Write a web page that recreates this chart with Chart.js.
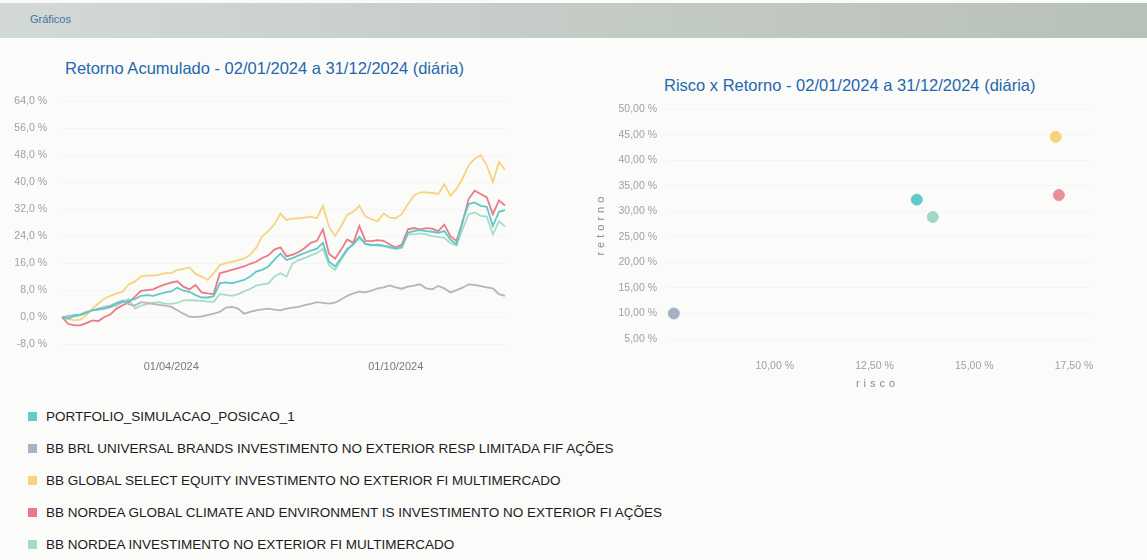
<!DOCTYPE html>
<html><head><meta charset="utf-8">
<script src="https://cdn.jsdelivr.net/npm/chart.js@4.4.1/dist/chart.umd.min.js"></script>
<style>
body{margin:0;width:1147px;height:560px;background:#fbfbfa;font-family:"Liberation Sans",Arial,sans-serif;position:relative;overflow:hidden}
#hdr{position:absolute;left:0;top:3px;width:1147px;height:35px;background:linear-gradient(90deg,#d3d9d6 0%,#c6cdc8 45%,#b8c1b8 100%)}
#hdr span{position:absolute;left:30px;top:10px;font-size:11px;color:#3f72a8}
.title{position:absolute;font-size:16.5px;color:#2467ae;white-space:nowrap}
#lc{position:absolute;left:0;top:80px}
#rc{position:absolute;left:590px;top:95px}
#legend{position:absolute;left:28px;top:400px}
.li{height:32px;display:flex;align-items:center;font-size:13.5px;color:#1c1c1c;white-space:nowrap}
.sw{width:9px;height:9px;margin-right:9px;flex:none}
</style></head>
<body>
<div id="hdr"><span>Gráficos</span></div>
<div class="title" style="left:65px;top:59px">Retorno Acumulado - 02/01/2024 a 31/12/2024 (diária)</div>
<div class="title" style="left:664px;top:76px">Risco x Retorno - 02/01/2024 a 31/12/2024 (diária)</div>
<canvas id="lc" width="520" height="300"></canvas>
<canvas id="rc" width="540" height="300"></canvas>
<div id="legend"></div>
<script>
const seriesNames = [
  'PORTFOLIO_SIMULACAO_POSICAO_1',
  'BB BRL UNIVERSAL BRANDS INVESTIMENTO NO EXTERIOR RESP LIMITADA FIF AÇÕES',
  'BB GLOBAL SELECT EQUITY INVESTIMENTO NO EXTERIOR FI MULTIMERCADO',
  'BB NORDEA GLOBAL CLIMATE AND ENVIRONMENT IS INVESTIMENTO NO EXTERIOR FI AÇÕES',
  'BB NORDEA INVESTIMENTO NO EXTERIOR FI MULTIMERCADO'
];
const seriesColors = ['#62cccd', '#aab0c4', '#f6d47e', '#ec7686', '#a4dac6'];
const lineColors = ['#5fc9c9', '#b3b6b8', '#f6d47e', '#ea7a88', '#a6dccb'];
const pointColors = ['#5fcacc', '#a3b3c6', '#f7d47c', '#e98f9b', '#a2d8c4'];

const dates = [
  '02/01/2024','07/01/2024','12/01/2024','17/01/2024','22/01/2024','27/01/2024',
  '01/02/2024','06/02/2024','11/02/2024','16/02/2024','21/02/2024','26/02/2024',
  '02/03/2024','07/03/2024','12/03/2024','17/03/2024','22/03/2024','27/03/2024',
  '01/04/2024','06/04/2024','11/04/2024','16/04/2024','21/04/2024','26/04/2024',
  '01/05/2024','06/05/2024','11/05/2024','16/05/2024','21/05/2024','26/05/2024','31/05/2024',
  '05/06/2024','10/06/2024','15/06/2024','20/06/2024','25/06/2024','30/06/2024',
  '05/07/2024','10/07/2024','15/07/2024','20/07/2024','25/07/2024','30/07/2024',
  '04/08/2024','09/08/2024','14/08/2024','19/08/2024','24/08/2024','29/08/2024',
  '03/09/2024','08/09/2024','13/09/2024','18/09/2024','23/09/2024','26/09/2024',
  '01/10/2024','06/10/2024','11/10/2024','16/10/2024','21/10/2024','26/10/2024','31/10/2024',
  '05/11/2024','10/11/2024','15/11/2024','20/11/2024','25/11/2024','30/11/2024',
  '05/12/2024','10/12/2024','15/12/2024','20/12/2024','25/12/2024','31/12/2024'
];
const xTickLabels = ['01/04/2024', '01/10/2024'];

const portfolio = [0,-0.5,0.3,0.6,1.2,2,2.3,2.5,3,4,4.4,4.8,5.3,6.3,6.5,6.3,6.8,7.3,7.6,8.7,7.8,7.5,6.5,5.8,5.8,6.2,10,10.3,10,10.5,11,12,13.5,14,15,17,18.8,16.9,17.5,18.3,19,19.7,20.3,22,16.4,15,17.5,20.2,21.5,23.6,21.6,21.3,21.5,21.2,20.8,20.3,20.8,25,25.5,25.8,25.5,25.3,25,25.5,23,21.6,28.5,33.5,34,33,32.7,27,31.2,31.7];
const universalBrands = [0,0.3,0.6,0.8,1.5,2,2.5,3,3.4,4.2,4.9,3.8,3.4,4.4,4.2,3.9,3.6,3.4,3,2,1,0.1,0,0.2,0.6,1,1.5,2.8,3,2.5,1,1.5,2,2.3,2.5,2.2,2,2.5,2.8,3,3.5,3.9,4.4,4.2,4,4.3,5.2,6.3,7,7.5,7.3,7.8,8.5,8.8,9.4,8.8,8.4,9,9.3,9.7,8.5,8.2,9.2,8.5,7.3,8,8.7,9.7,9.5,9.2,8.8,8.5,6.8,6.3];
const globalSelect = [0,-0.5,-1,-0.8,0.5,2.5,4,5.5,6.3,7,7.5,9.7,10.5,12,12.3,12.3,12.6,13,13,14,14.3,14.7,12.8,12,11,13,15.4,16,16.4,16.8,17.3,18.5,20.5,24,25.5,27.5,30.7,28.8,29.2,29.3,29.5,29.8,29.3,33,26.8,24,27,30.3,31.2,33,29.8,29,28.4,30.7,29.5,29.3,30.5,33.5,36,37,37,36.8,36.5,39.4,36,38,41,45,47,48,45,40,46,43.7];
const nordeaClimate = [0,-2,-2.5,-2.5,-1.8,-1,-1.2,0,0.8,2.5,3.5,4.4,6,7.8,8,8.2,9,9.7,10.2,10.6,9,8.2,9.5,7.3,7,6.8,13,13.5,14,14.5,15,15.8,16.4,17.5,18.3,20,20.7,18,18.5,19.3,20.5,22,22.6,26,18.8,17.3,20,23,22,27,22.6,22.5,22.8,22.6,21.5,20.7,21.5,26,26.4,26,26.4,26.2,25.5,27.4,24,22.6,28,35,37.5,36.5,35.5,30.5,34.6,33.1];
const nordeaMulti = [0,-0.3,0.3,0.6,1.2,2,2.2,2.5,3,3.4,4.5,5.4,2.5,3.4,3.8,4.2,4.4,4,3.9,4.2,4.9,5,4.9,4.8,4.6,4.5,6.8,6.6,6.3,6.8,7.6,8.3,9.3,9.7,10,12,13,12,15.9,16.9,17.5,18.3,19,20.2,15.4,14,17,19.7,22,24,21.8,21.5,21.2,21,20.5,20.2,20.5,24.5,24.5,24.8,24.5,24,23.8,23.5,22,21.2,26,30.5,31,30,29.8,24.5,28.4,26.9];

const riskValues = [13.56, 7.47, 17.04, 17.12, 13.96];
const returnValues = [32.3, 10.0, 44.6, 33.2, 28.9];
const riskTicks = [10, 12.5, 15, 17.5];

const lineSeries = [portfolio, universalBrands, globalSelect, nordeaClimate, nordeaMulti];

// legend
const lg = document.getElementById('legend');
seriesNames.forEach((n, i) => {
  const d = document.createElement('div'); d.className = 'li';
  const s = document.createElement('span'); s.className = 'sw'; s.style.background = seriesColors[i];
  const t = document.createElement('span'); t.textContent = n;
  d.appendChild(s); d.appendChild(t); lg.appendChild(d);
});

const pct = (d) => (v) => v.toFixed(d).replace('.', ',') + ' %';

new Chart(document.getElementById('lc'), {
  type: 'line',
  data: {
    labels: dates,
    datasets: lineSeries.map((arr, i) => ({
      label: seriesNames[i], data: arr, borderColor: lineColors[i], backgroundColor: lineColors[i],
      borderWidth: 1.8, pointRadius: 0, fill: false, tension: 0
    }))
  },
  options: {
    responsive: false, animation: false,
    layout: { padding: { left: 4, right: 15, top: 14, bottom: 0 } },
    plugins: { legend: { display: false }, tooltip: { enabled: false } },
    scales: {
      x: {
        grid: { display: false }, border: { display: false },
        ticks: {
          autoSkip: false, maxRotation: 0, padding: 8, color: '#7a7a7a', font: { size: 11 },
          callback: function (v) { const l = this.getLabelForValue(v); return xTickLabels.includes(l) ? l : ''; }
        },
        afterFit: (s) => { s.height = 36; }
      },
      y: {
        min: -8, max: 64,
        ticks: { stepSize: 8, color: '#a0a0a0', font: { size: 10.5 }, padding: 15, callback: pct(1) },
        grid: { color: '#f5f5f5', drawTicks: false }, border: { display: false },
        afterFit: (s) => { s.width = 58; }
      }
    }
  }
});

const spacedTitles = {
  id: 'spacedTitles',
  afterLayout(chart) {
    Object.values(chart.scales).forEach((sc) => {
      if (sc._spaced) return;
      const orig = sc.drawTitle.bind(sc);
      sc.drawTitle = function () { const c = this.ctx; c.save(); c.letterSpacing = '4px'; orig(); c.restore(); };
      sc._spaced = true;
    });
  }
};

new Chart(document.getElementById('rc'), {
  type: 'scatter',
  data: {
    datasets: seriesNames.map((n, i) => ({
      label: n, data: [{ x: riskValues[i], y: returnValues[i] }],
      backgroundColor: pointColors[i], borderColor: pointColors[i], pointRadius: 5.5
    }))
  },
  options: {
    responsive: false, animation: false,
    layout: { padding: { left: 0, right: 40, top: 14, bottom: 0 } },
    plugins: { legend: { display: false }, tooltip: { enabled: false } },
    scales: {
      x: {
        type: 'linear', min: 7.25, max: 17.9,
        afterBuildTicks: (s) => { s.ticks = riskTicks.map((v) => ({ value: v })); },
        ticks: { color: '#a0a0a0', font: { size: 10.5 }, padding: 13, callback: pct(2) },
        grid: { display: false }, border: { display: false },
        title: { display: true, text: 'risco', color: '#8a8a8a', font: { size: 11 }, padding: { top: 5 } },
        afterFit: (s) => { s.height = 56; }
      },
      y: {
        min: 5, max: 50,
        ticks: { stepSize: 5, color: '#a0a0a0', font: { size: 10.5 }, padding: 8, callback: pct(2) },
        grid: { color: '#f5f5f5', drawTicks: false }, border: { display: false },
        title: { display: true, text: 'retorno', color: '#8a8a8a', font: { size: 11 }, padding: { bottom: 4 } },
        afterFit: (s) => { s.width = 75; }
      }
    }
  },
  plugins: [spacedTitles]
});
</script>
</body></html>
